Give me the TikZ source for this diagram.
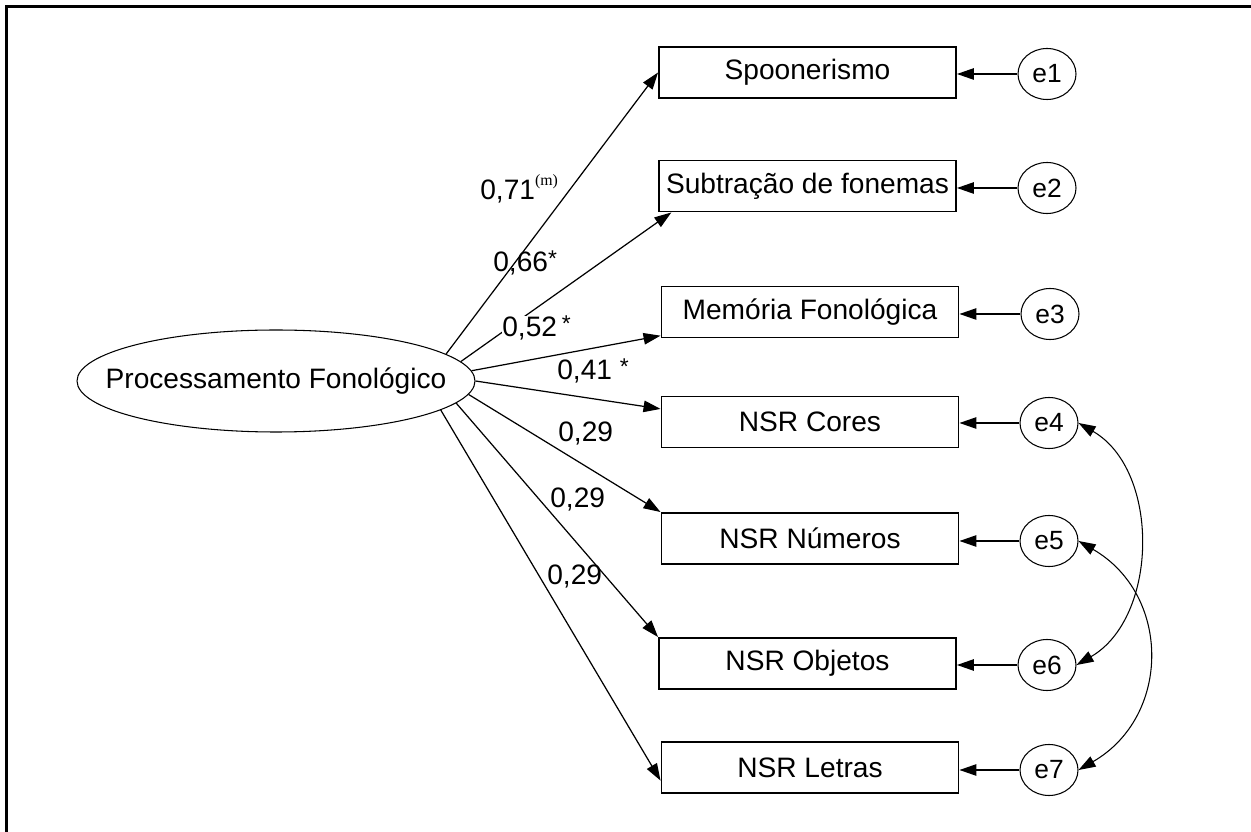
\documentclass[tikz,border=0pt]{standalone}
\usepackage{fontspec}
\setmainfont{Liberation Sans}
\newfontfamily\supserif{Liberation Serif}
\usetikzlibrary{arrows.meta,shapes.geometric}
\newcommand{\sigmark}[1]{\raisebox{3pt}{\fontsize{13}{13}\selectfont #1}}
\newcommand{\modmark}[1]{\raisebox{8.5pt}{\supserif\fontsize{9}{9}\selectfont #1}}
\tikzset{
  sem frame/.style={draw=black, line width=1.7pt},
  sem box/.style={
    draw=black,
    line width=1.1pt,
    minimum width=5.94cm,
    minimum height=1.02cm,
    inner sep=0pt,
    font=\fontsize{16}{19}\selectfont
  },
  sem latent/.style={
    ellipse,
    draw=black,
    line width=.6pt,
    minimum width=7.96cm,
    minimum height=2.04cm,
    inner sep=0pt,
    font=\fontsize{16}{19}\selectfont
  },
  sem error/.style={
    ellipse,
    draw=black,
    line width=.6pt,
    minimum width=1.16cm,
    minimum height=1.02cm,
    inner sep=0pt,
    font=\fontsize{15}{18}\selectfont
  },
  sem path/.style={
    draw=black,
    line width=.7pt,
    -{Triangle[length=3.4mm,width=2.3mm]}
  },
  sem cov/.style={
    draw=black,
    line width=.6pt,
    {Triangle[length=3.4mm,width=2.3mm]}-{Triangle[length=3.4mm,width=2.3mm]}
  },
  sem coef/.style={anchor=base west, inner sep=0pt, font=\fontsize{16}{19}\selectfont}
}
\begin{document}
\begin{tikzpicture}[x=1cm,y=1cm]
  \useasboundingbox (0,0) rectangle (25.02,16.62);
  \draw[sem frame] (.13,-.5) -- (.13,16.48) -- (25.6,16.48);

  \node[sem latent] (pf) at (5.52,9.00) {\makebox[0pt]{Processamento Fonológico}};

  \node[sem box] (spoon) at (16.15,15.17) {Spoonerismo};
  \node[sem box] (subtr) at (16.15,12.90) {Subtração de fonemas};
  \node[sem box] (mem) at (16.20,10.38) {Memória Fonológica};
  \node[sem box] (cores) at (16.20,8.18) {NSR Cores};
  \node[sem box] (num) at (16.20,5.85) {NSR Números};
  \node[sem box] (obj) at (16.15,3.35) {NSR Objetos};
  \node[sem box] (letras) at (16.20,1.27) {NSR Letras};

  \node[sem error] (e1) at (20.94,15.14) {e1};
  \node[sem error] (e2) at (20.94,12.86) {e2};
  \node[sem error] (e3) at (21.00,10.34) {e3};
  \node[sem error] (e4) at (20.98,8.16) {e4};
  \node[sem error] (e5) at (20.98,5.80) {e5};
  \node[sem error] (e6) at (20.94,3.32) {e6};
  \node[sem error] (e7) at (20.98,1.22) {e7};

  \draw[sem path] (pf.9) -- (spoon.west);
  \draw[sem path] (pf.6.5) -- (subtr.191);
  \draw[sem path] (pf.3) -- (mem.189);
  \draw[sem path] (pf.0) -- (cores.175);
  \draw[sem path] (pf.-4) -- (num.north west);
  \draw[sem path] (pf.-7) -- (obj.north west);
  \draw[sem path] (pf.-10) -- (letras.185);

  \draw[sem path] (e1.west) -- (e1.west -| spoon.east);
  \draw[sem path] (e2.west) -- (e2.west -| subtr.east);
  \draw[sem path] (e3.west) -- (e3.west -| mem.east);
  \draw[sem path] (e4.west) -- (e4.west -| cores.east);
  \draw[sem path] (e5.west) -- (e5.west -| num.east);
  \draw[sem path] (e6.west) -- (e6.west -| obj.east);
  \draw[sem path] (e7.west) -- (e7.west -| letras.east);

  \draw[sem cov] (e4.east) to[out=-30, in=30] (e6.east);
  \draw[sem cov] (e5.east) to[out=-30, in=30, looseness=1.2] (e7.east);

  \node[sem coef] (c1) at (9.60,12.62) {0,71\modmark{(m)}};
  \node[sem coef] (c2) at (9.86,11.18) {0,66\sigmark{*}};
  \node[sem coef, fill=white] (c3) at (10.04,9.88) {0,52\,\sigmark{*}};
  \node[sem coef] (c4) at (11.14,9.02) {0,41 \sigmark{*}};
  \node[sem coef] (c5) at (11.16,7.78) {0,29};
  \node[sem coef] (c6) at (11.00,6.46) {0,29};
  \node[sem coef] (c7) at (10.94,4.92) {0,29};
\end{tikzpicture}
\end{document}
